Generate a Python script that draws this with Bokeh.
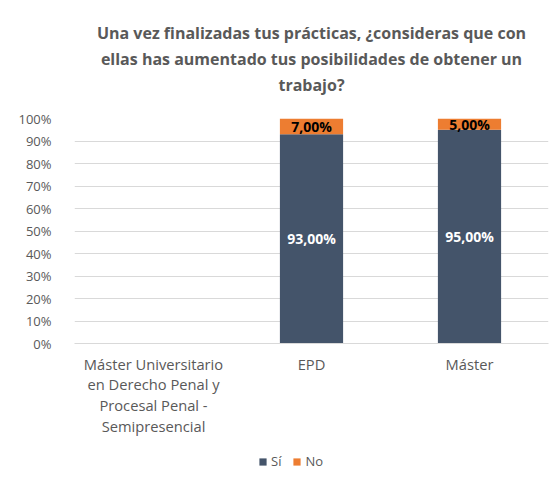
from bokeh.plotting import figure
from bokeh.layouts import column
from bokeh.models import ColumnDataSource, FactorRange, Legend, LegendItem, Title, FixedTicker, Range1d
from bokeh.embed import file_html
from bokeh.resources import INLINE
from bokeh.core.properties import value

categories = ["Máster Universitario\nen Derecho Penal y\nProcesal Penal -\nSemipresencial", "EPD", "Máster"]
si_values = [0.0, 93.0, 95.0]
no_values = [0.0, 7.0, 5.0]
y_ticks = [0, 10, 20, 30, 40, 50, 60, 70, 80, 90, 100]
series_names = ["Sí", "No"]
title_lines = ["Una vez finalizadas tus prácticas, ¿consideras que con",
               "ellas has aumentado tus posibilidades de obtener un",
               "trabajo?"]

SI_COLOR = "#44546A"
NO_COLOR = "#ED7D31"
TXT = "#595959"
FONT = "Open Sans"

src = ColumnDataSource(dict(cat=categories, si=si_values, no=no_values))

p = figure(x_range=FactorRange(*categories, range_padding=0), y_range=(0, 100),
           width=552, height=441, output_backend="svg", toolbar_location=None,
           min_border_left=74, min_border_right=4, min_border_top=118, min_border_bottom=98)
p.title.visible = False
# spacer closest to the plot area, then the title lines
p.add_layout(Title(text=" ", text_font=FONT, text_font_size="14.7px", standoff=0), "above")
for line in reversed(title_lines):
    p.add_layout(Title(text=line, align="center", text_font=FONT, text_font_size="16px",
                       text_font_style="bold", text_color=TXT, standoff=2), "above")

r = p.vbar_stack(["si", "no"], x="cat", width=0.4, source=src, color=[SI_COLOR, NO_COLOR], line_color=None)

# data labels
lab_x, lab_y, lab_t, lab_c = [], [], [], []
for c, s, n in zip(categories, si_values, no_values):
    if s > 0:
        lab_x.append(c); lab_y.append(s / 2); lab_t.append(f"{s:.2f}".replace(".", ",") + "%"); lab_c.append("white")
    if n > 0:
        lab_x.append(c); lab_y.append(s + n / 2); lab_t.append(f"{n:.2f}".replace(".", ",") + "%"); lab_c.append("black")
lsrc = ColumnDataSource(dict(x=lab_x, y=lab_y, t=lab_t, c=lab_c))
p.text(x="x", y="y", text="t", source=lsrc, text_color="c", text_align="center", text_baseline="middle",
       text_font=value(FONT), text_font_size="14px", text_font_style="bold")

p.yaxis.ticker = FixedTicker(ticks=y_ticks)
p.yaxis.major_label_overrides = {t: f"{t}%" for t in y_ticks}
p.yaxis.axis_line_color = None
p.yaxis.major_tick_line_color = None
p.yaxis.minor_tick_line_color = None
p.yaxis.major_label_standoff = 17
p.yaxis.major_label_text_font = FONT
p.yaxis.major_label_text_font_size = "13px"
p.yaxis.major_label_text_color = TXT

p.xaxis.axis_line_color = "#D9D9D9"
p.xaxis.major_tick_line_color = None
p.xaxis.major_label_standoff = 4
p.xaxis.major_label_text_font = FONT
p.xaxis.major_label_text_font_size = "14.7px"
p.xaxis.major_label_text_color = TXT
p.xaxis.major_label_text_line_height = 1.04

p.xgrid.grid_line_color = None
p.ygrid.grid_line_color = "#D9D9D9"
p.ygrid.ticker = FixedTicker(ticks=y_ticks)
p.outline_line_color = None

# legend strip below the chart (same stacked bars, drawn outside its visible range)
p2 = figure(width=552, height=40, output_backend="svg", toolbar_location=None, title=None,
            x_range=FactorRange(*categories, range_padding=0), y_range=Range1d(1000, 1001),
            x_axis_location=None, y_axis_location=None, min_border=0)
p2.grid.grid_line_color = None
p2.outline_line_color = None
r2 = p2.vbar_stack(["si", "no"], x="cat", width=0.4, source=src, color=[SI_COLOR, NO_COLOR], line_color=None)
legend = Legend(items=[LegendItem(label=series_names[0], renderers=[r2[0]]),
                       LegendItem(label=series_names[1], renderers=[r2[1]])],
                orientation="horizontal", location=(184, 11), border_line_color=None,
                background_fill_alpha=0, label_text_font=FONT, label_text_font_size="13px",
                label_text_color=TXT, glyph_width=9, glyph_height=9, spacing=11,
                label_standoff=4, label_width=10, padding=0, margin=0)
p2.add_layout(legend, "center")

open("out.html", "w").write(file_html(column(p, p2, spacing=0), INLINE))
